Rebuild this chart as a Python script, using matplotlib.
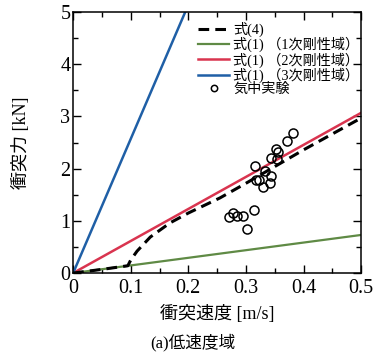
import numpy as np
import matplotlib
matplotlib.use("Agg")
import matplotlib.pyplot as plt
from matplotlib.ticker import MultipleLocator

plt.rcParams['font.family'] = ['Liberation Serif', 'Noto Sans CJK JP', 'DejaVu Sans']
plt.rcParams['mathtext.fontset'] = 'stix'

# 式(1) straight lines for the three stiffness regions
speed_line = [0.0, 0.5]
force_k1 = [0.0, 0.73]
force_k2 = [0.0, 3.07]
force_k3 = [0.0, 12.85]

# 式(4)
speed_eq4 = [0.0, 0.05, 0.095, 0.10, 0.111, 0.134, 0.168, 0.20, 0.255, 0.30, 0.40, 0.50]
force_eq4 = [0.0, 0.07, 0.14, 0.25, 0.42, 0.69, 0.96, 1.15, 1.44, 1.72, 2.36, 2.97]

# 気中実験
speed_exp = [0.382, 0.371, 0.352, 0.356, 0.343, 0.354, 0.315, 0.333, 0.344, 0.318,
             0.323, 0.341, 0.329, 0.270, 0.277, 0.285, 0.295, 0.314, 0.302]
force_exp = [2.68, 2.53, 2.38, 2.31, 2.21, 2.18, 2.06, 1.95, 1.86, 1.78,
             1.79, 1.73, 1.65, 1.08, 1.16, 1.10, 1.10, 1.21, 0.85]

fig = plt.figure(figsize=(3.75, 3.56), dpi=100)
ax = fig.add_axes([0.195, 0.233, 0.768, 0.733])

ax.plot(speed_eq4, force_eq4, color='black', lw=2.2, ls=(0, (3.5, 2)), label='式(4)', zorder=4)
ax.plot(speed_line, force_k1, color='#5f8a45', lw=1.6, label='式(1) （1次剛性域）')
ax.plot(speed_line, force_k2, color='#d9344f', lw=1.8, label='式(1) （2次剛性域）')
ax.plot(speed_line, force_k3, color='#1f5fa6', lw=1.8, label='式(1) （3次剛性域）')
ax.plot(speed_exp, force_exp, ls='none', marker='o', ms=6.5, mfc='none',
        mec='black', mew=1.1, label='気中実験', zorder=5)

ax.set_xlim(0, 0.5)
ax.set_ylim(0, 5)
ax.xaxis.set_minor_locator(MultipleLocator(0.05))
ax.yaxis.set_minor_locator(MultipleLocator(0.5))
ax.set_xticks([0, 0.1, 0.2, 0.3, 0.4, 0.5])
ax.set_xticklabels(['0', '0.1', '0.2', '0.3', '0.4', '0.5'])
ax.set_yticks([0, 1, 2, 3, 4, 5])
ax.set_yticklabels(['0', '1', '2', '3', '4', '5'])
ax.tick_params(which='both', direction='in', top=True, right=True, labelsize=14.5)
ax.tick_params(axis='x', pad=4)
ax.tick_params(axis='y', pad=2)
ax.tick_params(which='major', length=6, width=1)
ax.tick_params(which='minor', length=3.5, width=1)
for s in ax.spines.values():
    s.set_linewidth(1.1)

ax.set_xlabel('衝突速度 [m/s]', fontsize=13, labelpad=5)
ax.set_ylabel('衝突力 [kN]', fontsize=13, labelpad=22)

leg = ax.legend(loc='upper left', bbox_to_anchor=(0.414, 0.985), frameon=False,
                fontsize=10.2, handlelength=2.2, handletextpad=0.3,
                labelspacing=0.0, borderaxespad=0, markerscale=0.7)

fig.text(0.515, 0.037, '(a)低速度域', ha='center', va='center', fontsize=12)

fig.savefig('out.png', dpi=100)
